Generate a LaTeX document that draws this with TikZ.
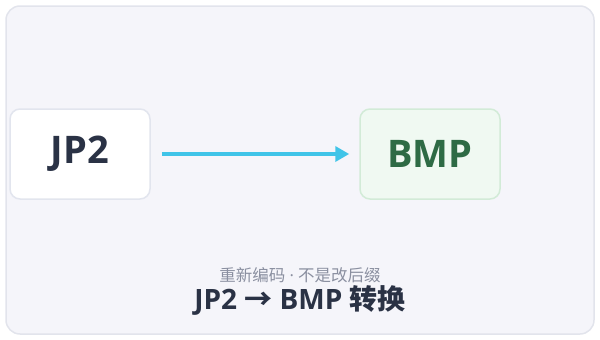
\documentclass[tikz,border=0pt]{standalone}
\usepackage{fontspec}
\setmainfont{Open Sans}
\newfontfamily\cjk{Noto Sans CJK SC}
\usepackage{tikz}
\usetikzlibrary{arrows.meta, positioning}
\definecolor{pagebg}{RGB}{245,245,250}
\definecolor{pageline}{RGB}{226,228,236}
\definecolor{srcline}{RGB}{226,229,238}
\definecolor{dstfill}{RGB}{240,249,242}
\definecolor{dstline}{RGB}{210,235,215}
\definecolor{dsttext}{RGB}{46,107,69}
\definecolor{mydark}{RGB}{42,50,69}
\definecolor{mygray}{RGB}{138,143,160}
\definecolor{mycyan}{RGB}{64,196,232}
\tikzset{
  fmtbox/.style={rectangle, draw=srcline, fill=white, line width=1.5pt,
    minimum width=140pt, minimum height=90pt, rounded corners=10pt,
    font=\fontsize{38}{44}\selectfont\bfseries, text=mydark},
  dstbox/.style={fmtbox, draw=dstline, fill=dstfill, text=dsttext},
  arrow/.style={-{Triangle[length=14pt,width=15pt]}, line width=3.5pt, color=mycyan}
}
\begin{document}
\begin{tikzpicture}[x=1pt, y=-1pt]
  \useasboundingbox (0,0) rectangle (600,340);
  \draw[draw=pageline, fill=pagebg, line width=1.5pt, rounded corners=14pt] (6,6) rectangle (594,334);

  \node[fmtbox] (jp2) at (80,154) {JP2};
  \node[dstbox] (bmp) at (430,154) {BMP};

  \draw[arrow] ([xshift=11pt]jp2.east) -- ([xshift=-10pt]bmp.west);

  \node[font=\fontsize{16.5}{19}\selectfont, text=mygray] (sub) at (300,275) {{\cjk 重新编码} · {\cjk 不是改后缀}};
  \node[font=\fontsize{28}{32}\selectfont\bfseries, text=mydark] (title) at (300,300)
    {JP2 {\cjk →} BMP {\cjk 转换}};
\end{tikzpicture}
\end{document}
